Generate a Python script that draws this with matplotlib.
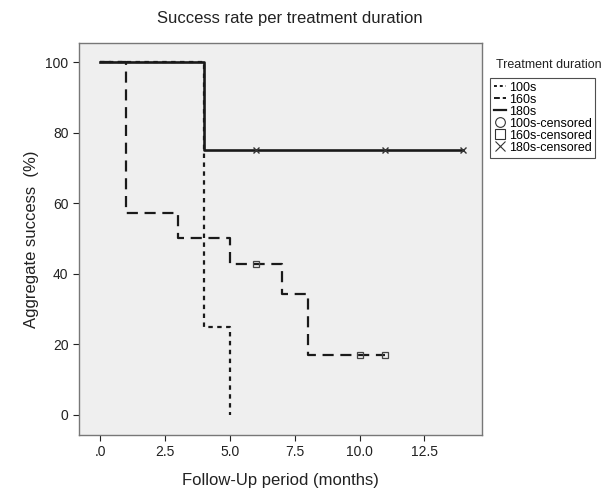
import matplotlib
matplotlib.use("Agg")
import matplotlib.pyplot as plt
from matplotlib.lines import Line2D

plt.rcParams['font.family'] = ['Liberation Sans', 'DejaVu Sans']

# Data (Kaplan-Meier style step curves)
t_100 = [0, 4, 5]
s_100 = [100, 25, 0]

t_160 = [0, 1, 3, 5, 7, 8, 11]
s_160 = [100, 57.1, 50.0, 42.9, 34.3, 17.1, 17.1]
cens_t_160 = [6, 10, 11]
cens_s_160 = [42.9, 17.1, 17.1]

t_180 = [0, 4, 14]
s_180 = [100, 75, 75]
cens_t_180 = [6, 11, 14]
cens_s_180 = [75, 75, 75]

x_ticks = [0, 2.5, 5.0, 7.5, 10.0, 12.5]
x_ticklabels = ['.0', '2.5', '5.0', '7.5', '10.0', '12.5']
y_ticks = [0, 20, 40, 60, 80, 100]

fig = plt.figure(figsize=(6.12, 4.95), dpi=100)
ax = fig.add_axes([79/612, 60/495, (482-79)/612, (435-43)/495])
ax.set_facecolor('#efefef')

ax.step(t_100, s_100, where='post', color='#1a1a1a', lw=1.6, linestyle=(0, (2, 2)))
ax.step(t_160, s_160, where='post', color='#1a1a1a', lw=1.6, linestyle=(0, (5, 3)))
ax.step(t_180, s_180, where='post', color='#1a1a1a', lw=1.9, linestyle='-')
ax.plot(cens_t_160, cens_s_160, linestyle='none', marker='s', ms=5, mfc='none',
        mec='#444444', mew=0.9)
ax.plot(cens_t_180, cens_s_180, linestyle='none', marker='x', ms=4, mec='#333333', mew=1.0)

ax.set_xlim(-0.81, 14.72)
ax.set_ylim(-5.7, 105.4)
ax.set_xticks(x_ticks)
ax.set_xticklabels(x_ticklabels)
ax.set_yticks(y_ticks)
ax.tick_params(direction='out', length=4, width=0.8, labelsize=10, colors='#222222')
for sp in ax.spines.values():
    sp.set_color('#777777')
    sp.set_linewidth(1.0)

ax.set_xlabel('Follow-Up period (months)', fontsize=12, labelpad=10, color='#222222')
ax.set_ylabel('Aggregate success  (%)', fontsize=12, labelpad=5, color='#222222')
fig.text(0.474, 0.963, 'Success rate per treatment duration', ha='center', va='center',
         fontsize=12, color='#222222')

handles = [
    Line2D([], [], color='#1a1a1a', lw=1.4, linestyle=(0, (1.5, 1.5))),
    Line2D([], [], color='#1a1a1a', lw=1.4, linestyle=(0, (3, 1.5))),
    Line2D([], [], color='#1a1a1a', lw=1.6, linestyle='-'),
    Line2D([], [], color='#333333', linestyle='none', marker='o', ms=7, mfc='none', mew=0.8),
    Line2D([], [], color='#333333', linestyle='none', marker='s', ms=7, mfc='none', mew=0.8),
    Line2D([], [], color='#333333', linestyle='none', marker='x', ms=7, mew=0.8),
]
labels = ['100s', '160s', '180s', '100s-censored', '160s-censored', '180s-censored']
fig.text(0.897, 0.868, 'Treatment duration', ha='center', va='center', fontsize=9,
         color='#222222')
leg = fig.legend(handles, labels, loc='upper left', bbox_to_anchor=(490/612, 1 - 78/495),
                 bbox_transform=fig.transFigure, fontsize=9, handlelength=1.0,
                 handletextpad=0.2, labelspacing=0.0, borderpad=0.3, borderaxespad=0,
                 fancybox=False, frameon=True)
leg.get_frame().set_edgecolor('#222222')
leg.get_frame().set_linewidth(0.8)

fig.savefig('out.png', dpi=100)
